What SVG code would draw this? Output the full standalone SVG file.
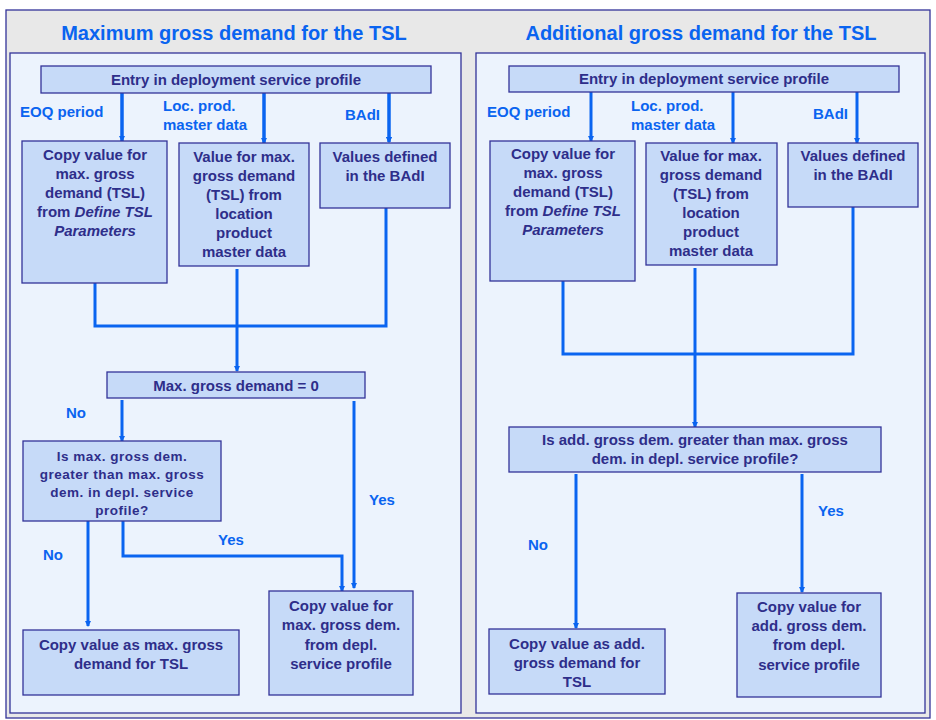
<svg xmlns="http://www.w3.org/2000/svg" width="936" height="720" viewBox="0 0 936 720">
<style>
text{font-family:"Liberation Sans",Arial,sans-serif;font-weight:bold}
.t{font-size:20px;fill:#0a64f0;text-anchor:middle}
.b{font-size:15px;fill:#2e2e8a;text-anchor:middle}
.s{font-size:13.5px;fill:#2e2e8a;text-anchor:middle;letter-spacing:0.5px}
.l{font-size:15px;fill:#0a64f0}
.box{fill:#c6daf8;stroke:#333399;stroke-width:1.3}
.c{fill:none;stroke:#0a64f0;stroke-width:3}
</style>
<defs><marker id="a" markerWidth="6" markerHeight="6" refX="5" refY="3" orient="auto" markerUnits="userSpaceOnUse" viewBox="0 0 6 6"><path d="M0,0L6,3L0,6z" fill="#0a64f0"/></marker></defs>
<rect x="6" y="10" width="924" height="708" fill="#e8e8e8" stroke="#333399" stroke-width="1.3"/>
<rect x="10" y="53" width="451" height="660" fill="#ecf3fd" stroke="#333399" stroke-width="1.3"/>
<rect x="476" y="53" width="449" height="660" fill="#ecf3fd" stroke="#333399" stroke-width="1.3"/>
<text class="t" x="234" y="40">Maximum gross demand for the TSL</text>
<text class="t" x="701" y="40">Additional gross demand for the TSL</text>
<g id="connectors">
<path class="c" d="M122,93V141M264,93V143M389,93V142" marker-end="url(#a)"/>
<path class="c" d="M122,93V141" marker-end="url(#a)"/>
<path class="c" d="M264,93V143" marker-end="url(#a)"/>
<path class="c" d="M389,93V142" marker-end="url(#a)"/>
<path class="c" d="M95,283V326H386V208"/>
<path class="c" d="M237,269V371" marker-end="url(#a)"/>
<path class="c" d="M122,400V441" marker-end="url(#a)"/>
<path class="c" d="M88,507V626" marker-end="url(#a)"/>
<path class="c" d="M123,521V556H342V591" marker-end="url(#a)"/>
<path class="c" d="M354,401V588" marker-end="url(#a)"/>
<path class="c" d="M591,92V141" marker-end="url(#a)"/>
<path class="c" d="M733,92V143" marker-end="url(#a)"/>
<path class="c" d="M857,92V143" marker-end="url(#a)"/>
<path class="c" d="M563,281V354H853V207"/>
<path class="c" d="M695,268V427" marker-end="url(#a)"/>
<path class="c" d="M576,474V628" marker-end="url(#a)"/>
<path class="c" d="M802,474V592" marker-end="url(#a)"/>
</g>
<g id="labels">
<text class="l" x="20" y="117">EOQ period</text>
<text class="l" x="163" y="111">Loc. prod.</text>
<text class="l" x="163" y="130">master data</text>
<text class="l" x="345" y="120">BAdI</text>
<text class="l" x="66" y="418">No</text>
<text class="l" x="43" y="560">No</text>
<text class="l" x="218" y="545">Yes</text>
<text class="l" x="369" y="505">Yes</text>
<text class="l" x="487" y="117">EOQ period</text>
<text class="l" x="631" y="111">Loc. prod.</text>
<text class="l" x="631" y="130">master data</text>
<text class="l" x="813" y="119">BAdI</text>
<text class="l" x="528" y="550">No</text>
<text class="l" x="818" y="516">Yes</text>
</g>
<g id="n1"><rect class="box" x="41" y="66" width="390" height="27"/><text class="b" x="236" y="85">Entry in deployment service profile</text></g>
<g id="n2"><rect class="box" x="22" y="141" width="145" height="142"/><text class="b" x="95" y="160">Copy value for</text><text class="b" x="95" y="179">max. gross</text><text class="b" x="95" y="198">demand (TSL)</text><text class="b" x="95" y="217">from <tspan font-style="italic">Define TSL</tspan></text><text class="b" x="95" y="236" font-style="italic">Parameters</text></g>
<g id="n3"><rect class="box" x="179" y="143" width="130" height="123"/><text class="b" x="244" y="162">Value for max.</text><text class="b" x="244" y="181">gross demand</text><text class="b" x="244" y="200">(TSL) from</text><text class="b" x="244" y="219">location</text><text class="b" x="244" y="238">product</text><text class="b" x="244" y="257">master data</text></g>
<g id="n4"><rect class="box" x="320" y="143" width="130" height="65"/><text class="b" x="385" y="162">Values defined</text><text class="b" x="385" y="181">in the BAdI</text></g>
<g id="n5"><rect class="box" x="107" y="372" width="258" height="26"/><text class="b" x="236" y="391">Max. gross demand = 0</text></g>
<g id="n6"><rect class="box" x="23" y="441" width="198" height="80"/><text class="s" x="122" y="461">Is max. gross dem.</text><text class="s" x="122" y="479">greater than max. gross</text><text class="s" x="122" y="497">dem. in depl. service</text><text class="s" x="122" y="515">profile?</text></g>
<g id="n7"><rect class="box" x="23" y="630" width="216" height="65"/><text class="b" x="131" y="650">Copy value as max. gross</text><text class="b" x="131" y="669">demand for TSL</text></g>
<g id="n8"><rect class="box" x="269" y="591" width="144" height="104"/><text class="b" x="341" y="611">Copy value for</text><text class="b" x="341" y="630">max. gross dem.</text><text class="b" x="341" y="650">from depl.</text><text class="b" x="341" y="669">service profile</text></g>
<g id="m1"><rect class="box" x="509" y="66" width="390" height="26"/><text class="b" x="704" y="84">Entry in deployment service profile</text></g>
<g id="m2"><rect class="box" x="490" y="141" width="145" height="140"/><text class="b" x="563" y="159">Copy value for</text><text class="b" x="563" y="178">max. gross</text><text class="b" x="563" y="197">demand (TSL)</text><text class="b" x="563" y="216">from <tspan font-style="italic">Define TSL</tspan></text><text class="b" x="563" y="235" font-style="italic">Parameters</text></g>
<g id="m3"><rect class="box" x="646" y="143" width="131" height="122"/><text class="b" x="711" y="161">Value for max.</text><text class="b" x="711" y="180">gross demand</text><text class="b" x="711" y="199">(TSL) from</text><text class="b" x="711" y="218">location</text><text class="b" x="711" y="237">product</text><text class="b" x="711" y="256">master data</text></g>
<g id="m4"><rect class="box" x="788" y="143" width="130" height="64"/><text class="b" x="853" y="161">Values defined</text><text class="b" x="853" y="180">in the BAdI</text></g>
<g id="m5"><rect class="box" x="509" y="427" width="372" height="45"/><text class="b" x="695" y="445">Is add. gross dem. greater than max. gross</text><text class="b" x="695" y="464">dem. in depl. service profile?</text></g>
<g id="m6"><rect class="box" x="489" y="629" width="176" height="65"/><text class="b" x="577" y="649">Copy value as add.</text><text class="b" x="577" y="668">gross demand for</text><text class="b" x="577" y="687">TSL</text></g>
<g id="m7"><rect class="box" x="737" y="593" width="144" height="104"/><text class="b" x="809" y="612">Copy value for</text><text class="b" x="809" y="631">add. gross dem.</text><text class="b" x="809" y="650">from depl.</text><text class="b" x="809" y="670">service profile</text></g>
</svg>
